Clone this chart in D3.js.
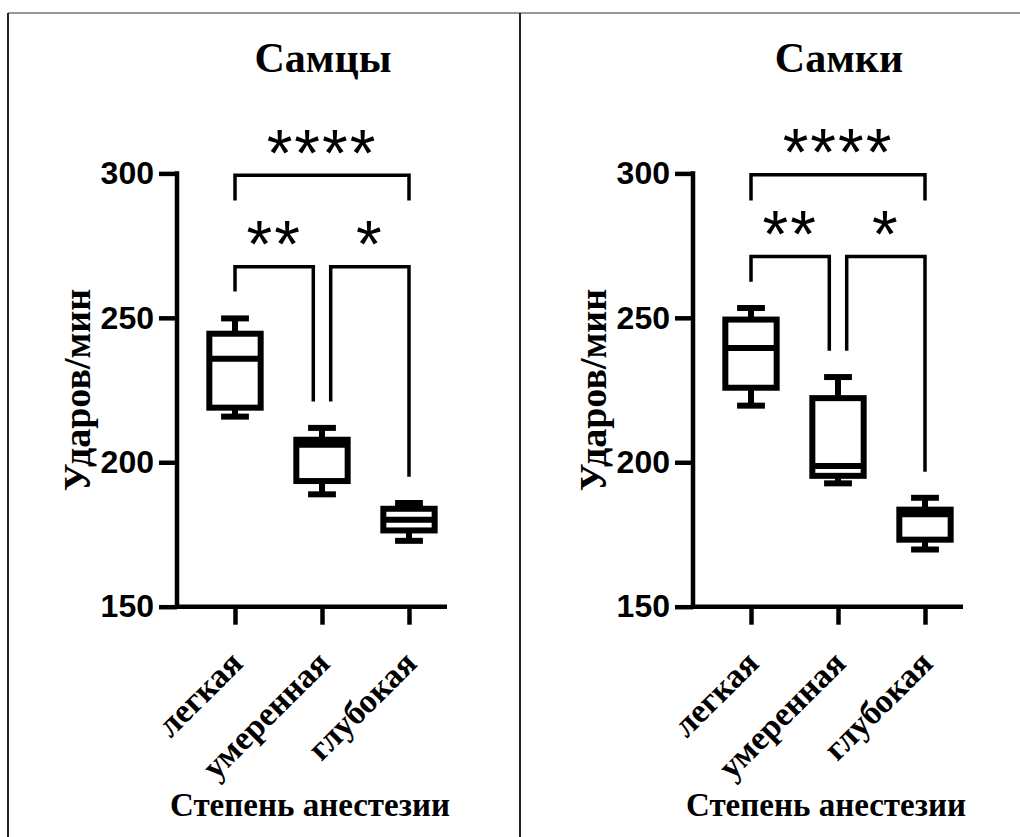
<!DOCTYPE html>
<html><head><meta charset="utf-8">
<script src="https://cdn.jsdelivr.net/npm/d3@7"></script>
<style>html,body{margin:0;padding:0;background:#fff;}svg{display:block;}</style>
</head><body>
<script>
const categories = ["легкая", "умеренная", "глубокая"];
const panelTitles = ["Самцы", "Самки"];
const yTicks = [150, 200, 250, 300];
const yLabel = "Ударов/мин";
const xLabel = "Степень анестезии";

// male box stats
const maleMin = [215.8, 188.9, 172.8];
const maleQ1 = [218.9, 193.5, 176.4];
const maleMedian = [235.8, 206.1, 180.1];
const maleQ3 = [244.5, 207.8, 183.9];
const maleMax = [249.8, 211.9, 185.9];
// female box stats
const femaleMin = [219.6, 192.7, 169.8];
const femaleQ1 = [225.8, 195.3, 173.2];
const femaleMedian = [239.6, 198.7, 182.0];
const femaleQ3 = [249.4, 222.2, 183.6];
const femaleMax = [253.4, 229.5, 187.7];

// significance brackets
const sigPairs = [[0, 1], [1, 2], [0, 2]];
const sigLabels = ["**", "*", "****"];
const maleSigLevel = [267.7, 267.7, 299.4];
const maleSigDrops = [[259.1, 221.0], [221.0, 195.0], [290.6, 290.6]];
const femaleSigLevel = [271.2, 271.2, 299.5];
const femaleSigDrops = [[262.5, 238.6], [238.6, 196.7], [290.6, 290.6]];

const W = 1020, H = 837;
const svg = d3.select("body").append("svg").attr("width", W).attr("height", H);

// frame
svg.append("line").attr("x1", 8).attr("x2", W).attr("y1", 13).attr("y2", 13).attr("stroke", "#999").attr("stroke-width", 2);
svg.append("line").attr("x1", 8).attr("x2", 8).attr("y1", 13).attr("y2", H).attr("stroke", "#222").attr("stroke-width", 2);
svg.append("line").attr("x1", 520).attr("x2", 520).attr("y1", 13).attr("y2", H).attr("stroke", "#222").attr("stroke-width", 2);

const serif = "'Liberation Serif','Times New Roman',serif";
const sans = "'Liberation Sans',Arial,sans-serif";

const panels = [
  {title: panelTitles[0], ox: 177, min: maleMin, q1: maleQ1, med: maleMedian, q3: maleQ3, max: maleMax, lvl: maleSigLevel, drops: maleSigDrops},
  {title: panelTitles[1], ox: 693, min: femaleMin, q1: femaleQ1, med: femaleMedian, q3: femaleQ3, max: femaleMax, lvl: femaleSigLevel, drops: femaleSigDrops}
];

const y = d3.scaleLinear().domain([150, 300]).range([606.7, 173.4]);

panels.forEach(p => {
  const g = svg.append("g");
  const x = d3.scalePoint().domain(categories).range([p.ox + 58, p.ox + 232]);
  const step = x.step();
  const axisEnd = p.ox + 270;

  // title
  g.append("text").attr("x", p.ox + 146).attr("y", 72).attr("text-anchor", "middle")
    .attr("font-family", serif).attr("font-weight", "bold").attr("font-size", 42).text(p.title);

  // y axis
  const yAxis = d3.axisLeft(y).tickValues(yTicks).tickSize(18).tickPadding(5).tickSizeOuter(0);
  const ya = g.append("g").attr("transform", `translate(${p.ox},0)`).call(yAxis);
  ya.select(".domain").attr("stroke", "#000").attr("stroke-width", 4.5).attr("d", `M0,${y(300)-2.2}V${y(150)+2.2}`);
  ya.selectAll(".tick line").attr("stroke", "#000").attr("stroke-width", 4.5);
  ya.selectAll(".tick text").attr("font-family", sans).attr("font-weight", "bold").attr("font-size", 32).attr("fill", "#000");

  // x axis
  const xAxis = d3.axisBottom(x).tickSize(18).tickSizeOuter(0).tickFormat("");
  const xa = g.append("g").attr("transform", `translate(0,${y(150)})`).call(xAxis);
  xa.select(".domain").attr("stroke", "#000").attr("stroke-width", 4.5).attr("d", `M${p.ox - 2.2},0H${axisEnd}`);
  xa.selectAll(".tick line").attr("stroke", "#000").attr("stroke-width", 4.5);

  // x tick labels
  g.selectAll(".xl").data(categories).enter().append("text")
    .attr("transform", d => `translate(${x(d) + 1},${y(150) + 50}) rotate(-45)`)
    .attr("text-anchor", "end").attr("dy", "0.35em")
    .attr("font-family", serif).attr("font-weight", "bold").attr("font-size", 34).text(d => d);

  // axis titles
  g.append("text").attr("transform", `translate(${p.ox - 87},${(y(300) + y(150)) / 2}) rotate(-90)`)
    .attr("text-anchor", "middle").attr("font-family", serif).attr("font-weight", "bold").attr("font-size", 38).text(yLabel);
  g.append("text").attr("x", p.ox + 133).attr("y", 816).attr("text-anchor", "middle")
    .attr("font-family", serif).attr("font-weight", "bold").attr("font-size", 33).text(xLabel);

  // boxes
  const bw = step * 0.59, cw = step * 0.32;
  categories.forEach((c, i) => {
    const cx = x(c);
    const sw = 6;
    g.append("line").attr("x1", cx).attr("x2", cx).attr("y1", y(p.max[i])).attr("y2", y(p.q3[i])).attr("stroke", "#000").attr("stroke-width", sw);
    g.append("line").attr("x1", cx).attr("x2", cx).attr("y1", y(p.min[i])).attr("y2", y(p.q1[i])).attr("stroke", "#000").attr("stroke-width", sw);
    g.append("line").attr("x1", cx - cw / 2).attr("x2", cx + cw / 2).attr("y1", y(p.max[i])).attr("y2", y(p.max[i])).attr("stroke", "#000").attr("stroke-width", sw);
    g.append("line").attr("x1", cx - cw / 2).attr("x2", cx + cw / 2).attr("y1", y(p.min[i])).attr("y2", y(p.min[i])).attr("stroke", "#000").attr("stroke-width", sw);
    g.append("rect").attr("x", cx - bw / 2).attr("y", y(p.q3[i])).attr("width", bw).attr("height", y(p.q1[i]) - y(p.q3[i]))
      .attr("fill", "#fff").attr("stroke", "#000").attr("stroke-width", sw);
    g.append("line").attr("x1", cx - bw / 2).attr("x2", cx + bw / 2).attr("y1", y(p.med[i])).attr("y2", y(p.med[i])).attr("stroke", "#000").attr("stroke-width", sw);
  });

  // significance brackets
  const off = step * 0.1;
  sigPairs.forEach((pr, k) => {
    let x1 = x(categories[pr[0]]), x2 = x(categories[pr[1]]);
    if (pr[1] - pr[0] === 1) {
      if (pr[0] === 1) x1 += off;
      if (pr[1] === 1) x2 -= off;
    }
    const ly = y(p.lvl[k]);
    g.append("path").attr("d", `M${x1},${y(p.drops[k][0])}V${ly}H${x2}V${y(p.drops[k][1])}`)
      .attr("fill", "none").attr("stroke", "#000").attr("stroke-width", 3.5);
    g.append("text").attr("x", (x1 + x2) / 2).attr("y", ly - 37 + 66 * 0.57).attr("text-anchor", "middle")
      .attr("font-family", sans).attr("font-size", 66).attr("letter-spacing", 2).text(sigLabels[k]);
  });
});
</script>
</body></html>
